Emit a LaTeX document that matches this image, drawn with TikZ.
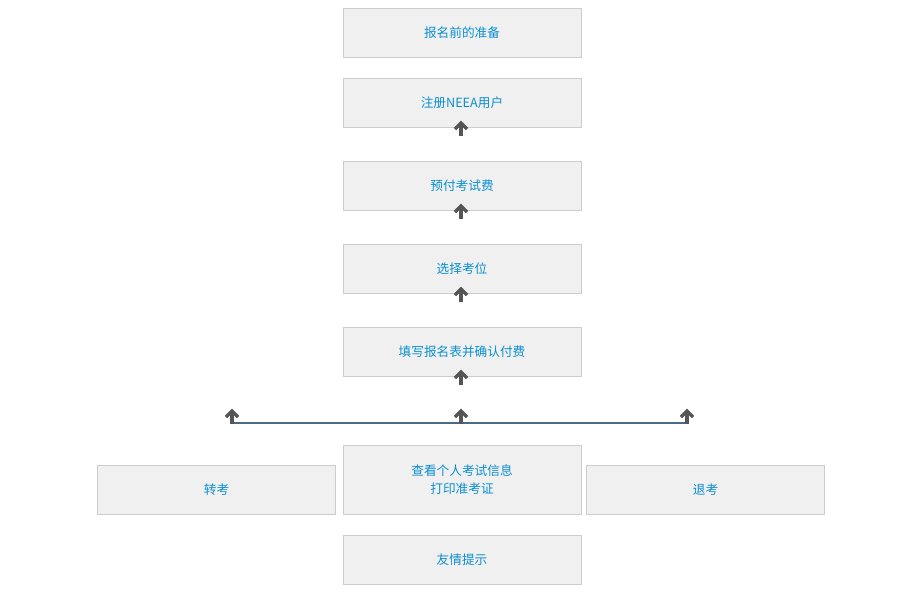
\documentclass[tikz,border=0pt]{standalone}
\usepackage{fontspec}
\setmainfont{Noto Sans CJK SC}
\usetikzlibrary{positioning,calc}
\definecolor{boxfill}{HTML}{F0F0F0}
\definecolor{boxline}{HTML}{CCCCCC}
\definecolor{txtblue}{HTML}{0A8FD0}
\definecolor{arrowgrey}{HTML}{555555}
\definecolor{barblue}{HTML}{4A6A8A}
\newcommand{\downicon}[1]{%
  \draw[arrowgrey, line width=2.6] ($(#1)+(0,-1)$) -- ($(#1)+(0,-13)$);
  \draw[arrowgrey, line width=2.6] ($(#1)+(-6,-8)$) -- ($(#1)+(0,-14)$) -- ($(#1)+(6,-8)$);}
\begin{document}
\begin{tikzpicture}[x=0.75pt, y=-0.75pt,
		stepbox/.style={rectangle, draw=boxline, fill=boxfill, line width=0.75,
		minimum width=178.5pt, minimum height=36.75pt, text=txtblue,
		font=\fontsize{9.5}{14}\selectfont, align=center, inner sep=0pt}
		]
		\useasboundingbox (0,0) rectangle (900,594);
		
		\node[stepbox](prep) at (462,32.5){报名前的准备};
		\node[stepbox](reg) at (462,102.5){注册NEEA用户};
		\node[stepbox](pay) at (462,185.5){预付考试费};
		\node[stepbox](seat) at (462,268.5){选择考位};
		\node[stepbox](form) at (462,351.5){填写报名表并确认付费};
		\node[stepbox, minimum height=51.75pt](info) at (462,479.5){查看个人考试信息\\打印准考证};
		\node[stepbox](trans) at (216.5,489.5){转考};
		\node[stepbox](quit) at (705.5,489.5){退考};
		\node[stepbox](tips) at (462,559.5){友情提示};
		
		% arrows between boxes
		\coordinate (a1) at (461,137);
		\coordinate (a2) at (461,220);
		\coordinate (a3) at (461,303);
		\coordinate (a4) at (461,386);
		\foreach \a in {a1,a2,a3,a4}{\downicon{\a}}
		
		% branch bar
		\coordinate (bl) at (231,423);
		\coordinate (br) at (689,423);
		\draw[barblue, line width=2.2] (bl) -- (br);
		\draw[arrowgrey, line width=2.6] (461,412) -- (461,423);
		\coordinate (b1) at (232,425);
		\coordinate (b2) at (461,425);
		\coordinate (b3) at (687,425);
		\foreach \b in {b1,b2,b3}{\downicon{\b}}
	\end{tikzpicture}
\end{document}
